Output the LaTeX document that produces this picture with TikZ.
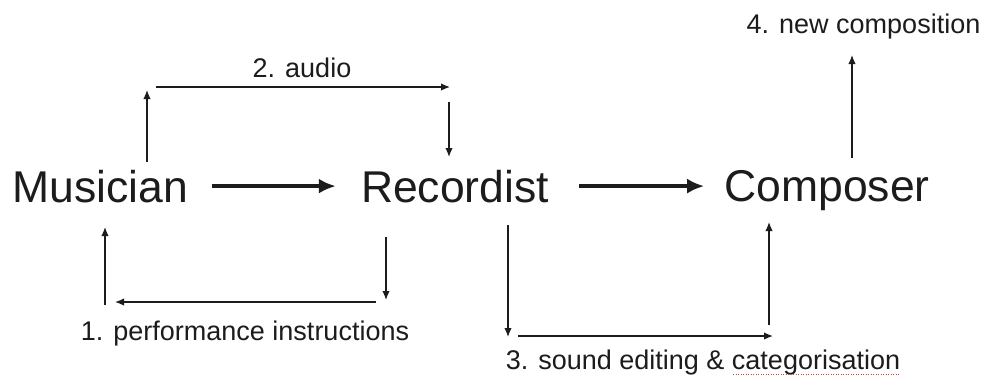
\documentclass[tikz,border=0pt]{standalone}
\usepackage{fontspec}
\setmainfont{Liberation Sans}
\usetikzlibrary{arrows.meta}
\definecolor{ink}{HTML}{1C1C1C}
\definecolor{squig}{HTML}{D04040}
\begin{document}
\begin{tikzpicture}[x=1pt,y=-1pt,
  big/.style={font=\fontsize{44.5}{50}\selectfont, inner sep=0pt, anchor=base, text=ink},
  small/.style={font=\fontsize{27}{30}\selectfont, inner sep=0pt, anchor=base, text=ink},
  thinarrow/.style={line width=1.4pt, draw=ink, -{Latex[length=9pt,width=7.5pt]}},
  thickarrow/.style={line width=4pt, draw=ink, -{Latex[length=17pt,width=15pt]}}]
\useasboundingbox (0,0) rectangle (982,376);
\fill[white] (0,0) rectangle (982,376);
% main nodes
\node[big] (mus) at (100,202) {Musician};
\node[big] (rec) at (455,202) {Recordist};
\node[big] (com) at (827,201.5) {Composer};
% main arrows
\draw[thickarrow] ([xshift=24pt]mus.east) -- ([xshift=-25pt]rec.west);
\draw[thickarrow] ([xshift=30pt]rec.east) -- ([xshift=-20pt]rec.east -| com.west);
% labels
\node[small] (l1) at (245,340) {1. performance instructions};
\node[small] (l2) at (302,77) {2. audio};
\node[small] (l3) at (703,369) {3. sound editing \& categorisation};
\node[small] (l4) at (863.5,33) {4. new composition};
% audio loop
\coordinate (a1) at (147,162); \coordinate (a2) at (147,90);
\coordinate (a3) at (156,87);  \coordinate (a4) at (450,87);
\coordinate (a5) at (449,102); \coordinate (a6) at (449,157);
\draw[thinarrow] (a1) -- (a2);
\draw[thinarrow] (a3) -- (a4);
\draw[thinarrow] (a5) -- (a6);
% performance loop
\coordinate (p1) at (386,237); \coordinate (p2) at (386,300);
\coordinate (p3) at (376,302); \coordinate (p4) at (115,302);
\coordinate (p5) at (105,305); \coordinate (p6) at (105,227);
\draw[thinarrow] (p1) -- (p2);
\draw[thinarrow] (p3) -- (p4);
\draw[thinarrow] (p5) -- (p6);
% sound editing loop
\coordinate (s1) at (508,225); \coordinate (s2) at (508,337);
\coordinate (s3) at (518,336); \coordinate (s4) at (773,336);
\coordinate (s5) at (769,325); \coordinate (s6) at (769,222);
\draw[thinarrow] (s1) -- (s2);
\draw[thinarrow] (s3) -- (s4);
\draw[thinarrow] (s5) -- (s6);
% new composition
\coordinate (n1) at (852,158); \coordinate (n2) at (852,55);
\draw[thinarrow] (n1) -- (n2);
% spell-check underline
\coordinate (u1) at (733,374); \coordinate (u2) at (899,374);
\draw[squig, line width=0.9pt, dash pattern=on 1pt off 1.5pt] (u1) -- (u2);
\end{tikzpicture}
\end{document}
